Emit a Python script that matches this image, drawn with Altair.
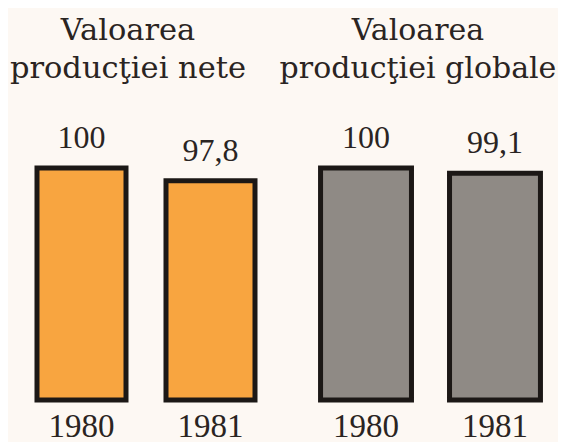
import altair as alt
import pandas as pd

years = ["1980", "1981"]
net_values = [100, 97.8]
net_labels = ["100", "97,8"]
gross_values = [100, 99.1]
gross_labels = ["100", "99,1"]
titles = [["Valoarea", "producţiei nete"], ["Valoarea", "producţiei globale"]]

BG = "#fdf8f3"
INK = "#2a2422"
SERIF_T = "DejaVu Serif"
SERIF_N = "Liberation Serif"


def panel(values, labels, fill, title, dx, width, p_in, p_out, align, tsize):
    df = pd.DataFrame({"year": years, "value": values, "label": labels})
    x = alt.X(
        "year:N",
        sort=years,
        scale=alt.Scale(paddingInner=p_in, paddingOuter=p_out, align=align),
        axis=alt.Axis(
            title=None, domain=False, ticks=False, labelAngle=0,
            labelFont=SERIF_N, labelFontSize=33, labelColor=INK,
            labelPadding=10,
        ),
    )
    y = alt.Y("value:Q", scale=alt.Scale(domain=[60, 100], zero=False), axis=None)
    base = alt.Chart(df)
    bars = base.mark_bar(fill=fill, stroke="#1c1816", strokeWidth=5).encode(
        x=x, y=y, y2=alt.datum(60)
    )
    text = base.mark_text(
        font=SERIF_N, fontSize=32, color=INK, baseline="alphabetic", dy=-20
    ).encode(x=x, y=y, text="label:N")
    return (bars + text).properties(
        width=width,
        height=232,
        title=alt.TitleParams(
            title, font=SERIF_T, fontSize=tsize, fontWeight="normal", color=INK,
            anchor="middle", baseline="top", lineHeight=38, offset=38, dx=dx,
        ),
    )


left = panel(net_values, net_labels, "#f8a540", titles[0], -9, 258, 0.31, 0.155, 0.725, 30.5)
right = panel(gross_values, gross_labels, "#8f8a85", titles[1], 0, 280, 0.295, 0.233, 0.708, 30)

chart = (
    alt.hconcat(left, right, spacing=12)
    .properties(padding={"left": 0, "top": 7, "right": 0, "bottom": 0})
    .configure(background=BG)
    .configure_view(stroke=None)
)

chart.save("out.html", embed_options={"renderer": "svg", "actions": False})
